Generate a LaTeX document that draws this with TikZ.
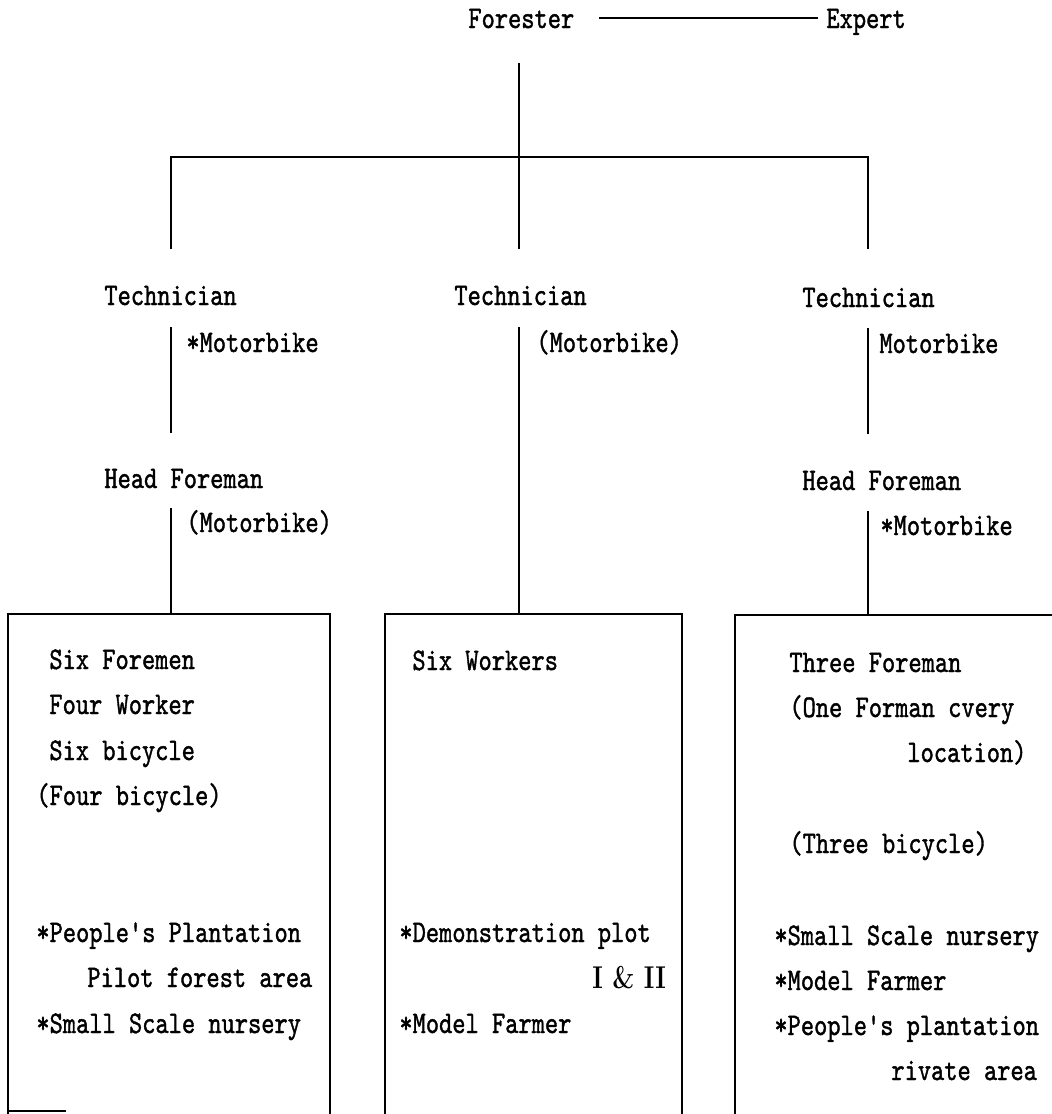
\documentclass[tikz,border=0pt]{standalone}
\usepackage{graphicx}
\usepackage{fontspec}
\newfontfamily\refmono{lmmono10-regular}[Extension=.otf,FakeBold=1.4]
\newcommand\stx[1]{\scalebox{1}[1.25]{#1}}
\begin{document}
\begin{tikzpicture}[x=0.5pt,y=-0.5pt,
  lbl/.style={anchor=base west,inner sep=0pt,font=\refmono\fontsize{12.6}{15}\selectfont},
  rml/.style={anchor=base west,inner sep=0pt,font=\rmfamily\bfseries\fontsize{12.6}{15}\selectfont},
  ln/.style={line width=1pt,line cap=rect}]
\useasboundingbox (0,0) rectangle (1051,1114);
% top
\node[lbl] (forester) at (468,28) {\stx{Forester}};
\node[lbl] (expert) at (826,28) {\stx{Expert}};
\coordinate (fe1) at (600,18); \coordinate (fe2) at (817,18);
\draw[ln] (fe1) -- (fe2);
\coordinate (ftop) at (519,64); \coordinate (bmid) at (519,157);
\coordinate (bl) at (171,157); \coordinate (br) at (868,157);
\coordinate (dl) at (171,248); \coordinate (dm) at (519,248); \coordinate (dr) at (868,248);
\draw[ln] (ftop) -- (bmid);
\draw[ln] (dl) -- (bl) -- (br) -- (dr);
\draw[ln] (bmid) -- (dm);
% technicians
\node[lbl] (tl) at (104,305) {\stx{Technician}};
\node[lbl] (tm) at (454,305) {\stx{Technician}};
\node[lbl] (tr) at (802,307) {\stx{Technician}};
\node[lbl] (ml) at (186,352) {\stx{*Motorbike}};
\node[lbl] (mm) at (536,352) {\stx{(Motorbike)}};
\node[lbl] (mr) at (879,353) {\stx{Motorbike}};
\node[lbl] (hl) at (104,488) {\stx{Head Foreman}};
\node[lbl] (hr) at (802,490) {\stx{Head Foreman}};
\node[lbl] (ml2) at (186,532) {\stx{(Motorbike)}};
\node[lbl] (mr2) at (880,535) {\stx{*Motorbike}};
% vertical connectors
\coordinate (la1) at (171,328); \coordinate (la2) at (171,432);
\coordinate (lb1) at (171,509); \coordinate (lb2) at (171,614);
\coordinate (ma1) at (519,328); \coordinate (ma2) at (519,614);
\coordinate (ra1) at (868,329); \coordinate (ra2) at (868,433);
\coordinate (rb1) at (868,512); \coordinate (rb2) at (868,615);
\draw[ln] (la1) -- (la2);
\draw[ln] (lb1) -- (lb2);
\draw[ln] (ma1) -- (ma2);
\draw[ln] (ra1) -- (ra2);
\draw[ln] (rb1) -- (rb2);
% boxes
\draw[ln] (8,1114) -- (8,614) -- (330,614) -- (330,1114);
\draw[ln] (8,1111) -- (65,1111);
\draw[ln] (385,1114) -- (385,614) -- (682,614) -- (682,1114);
\draw[ln] (735,1114) -- (735,615) -- (1055,615);
% left box text
\node[lbl] (a1) at (49,669) {\stx{Six Foremen}};
\node[lbl] (a2) at (49,714) {\stx{Four Worker}};
\node[lbl] (a3) at (49,760) {\stx{Six bicycle}};
\node[lbl] (a4) at (36,805) {\stx{(Four bicycle)}};
\node[lbl] (a5) at (36,942) {\stx{*People's Plantation}};
\node[lbl] (a6) at (87,987) {\stx{Pilot forest area}};
\node[lbl] (a7) at (36,1033) {\stx{*Small Scale nursery}};
% middle box text
\node[lbl] (b1) at (412,670) {\stx{Six Workers}};
\node[lbl] (b2) at (399,942) {\stx{*Demonstration plot}};
\node[rml] (b3) at (592,988) {\stx{I \& II}};
\node[lbl] (b4) at (399,1033) {\stx{*Model Farmer}};
% right box text
\node[lbl] (c1) at (789,672) {\stx{Three Foreman}};
\node[lbl] (c2) at (789,717) {\stx{(One Forman cvery}};
\node[lbl] (c3) at (907,762) {\stx{location)}};
\node[lbl] (c4) at (789,853) {\stx{(Three bicycle)}};
\node[lbl] (c5) at (774,945) {\stx{*Small Scale nursery}};
\node[lbl] (c6) at (774,990) {\stx{*Model Farmer}};
\node[lbl] (c7) at (774,1035) {\stx{*People's plantation}};
\node[lbl] (c8) at (891,1080) {\stx{rivate area}};
\end{tikzpicture}
\end{document}
